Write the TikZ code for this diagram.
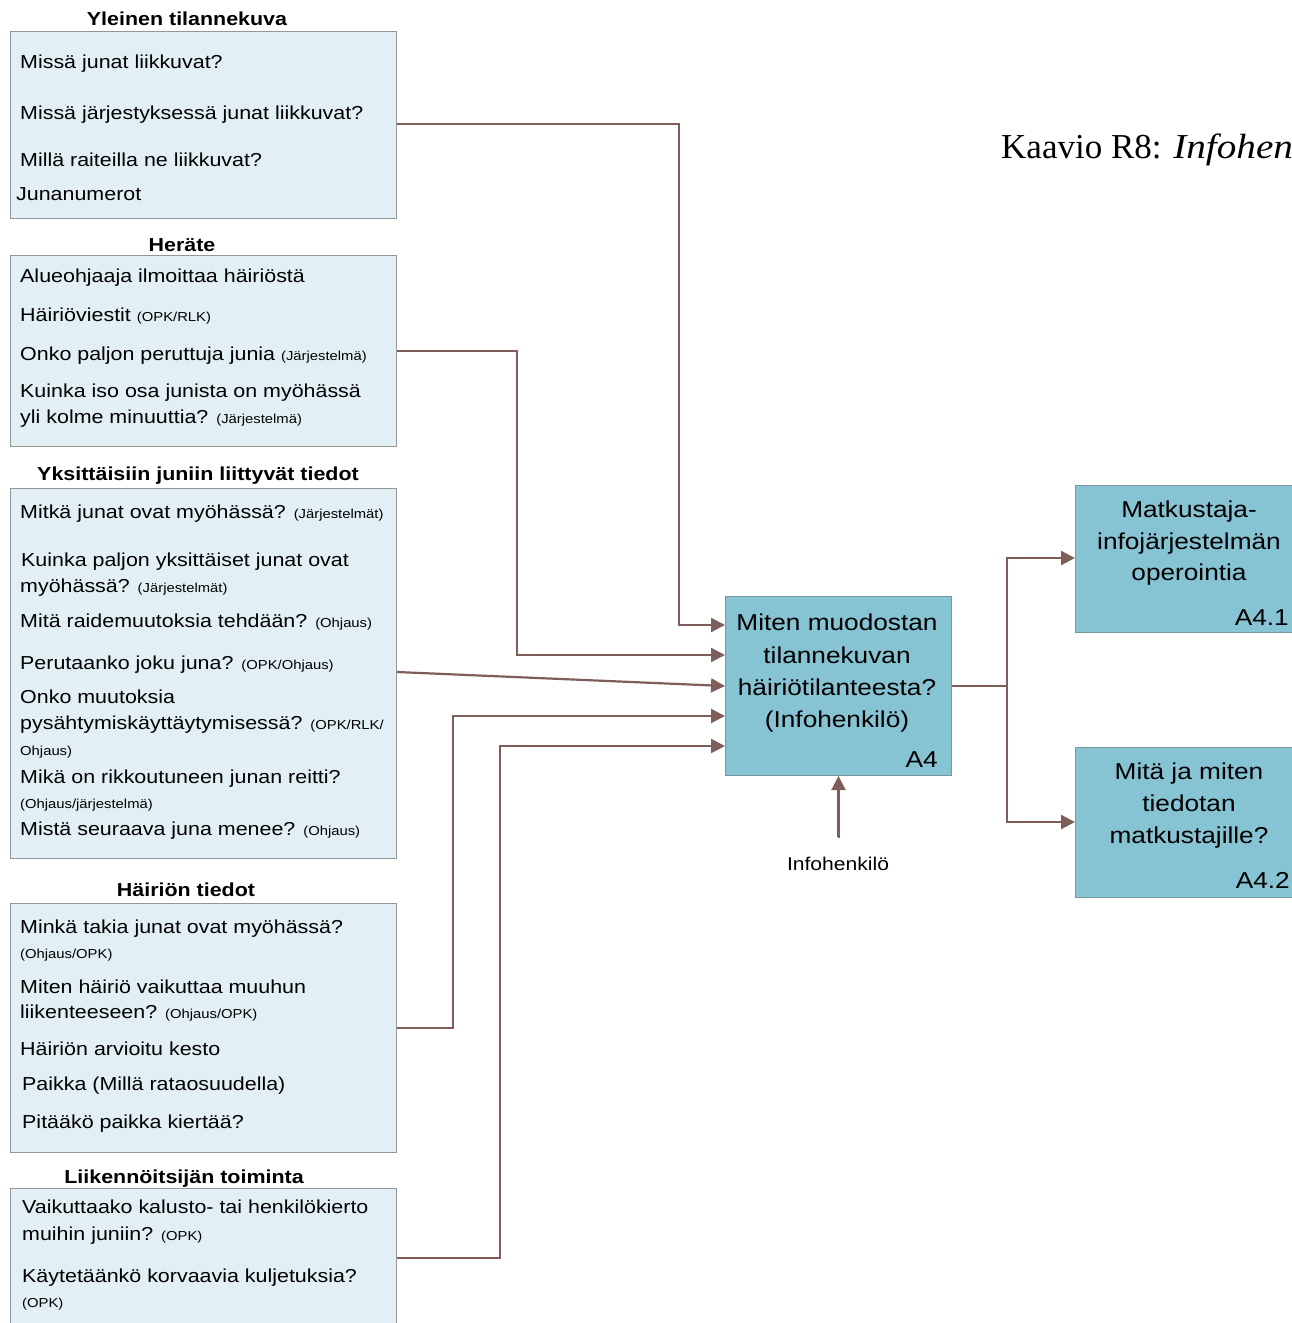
\documentclass[tikz,border=0pt]{standalone}
\usepackage{fontspec}
\usepackage{graphicx}
\setmainfont{Liberation Sans}[FakeStretch=1.14]
\newfontfamily\titleserif{Liberation Serif}
\usetikzlibrary{arrows.meta}
\definecolor{lightfill}{RGB}{226,239,244}
\definecolor{lightborder}{RGB}{150,150,150}
\definecolor{darkfill}{RGB}{134,195,211}
\definecolor{darkborder}{RGB}{120,150,160}
\definecolor{conncol}{RGB}{125,94,90}
\newcommand\txtsize{\fontsize{18.8}{22}\selectfont}
\newcommand\sm{\fontsize{13}{15}\selectfont}
\newcommand\bigsize{\fontsize{23}{27}\selectfont}
\tikzset{
  lightbox/.style={draw=lightborder, line width=1pt, fill=lightfill},
  darkbox/.style={draw=darkborder, line width=1pt, fill=darkfill},
  ln/.style={anchor=base west, inner sep=0pt, font=\txtsize},
  hd/.style={anchor=base, inner sep=0pt, font=\txtsize\bfseries},
  bt/.style={anchor=base, inner sep=0pt, font=\bigsize},
  lbl/.style={anchor=base east, inner sep=0pt, font=\bigsize},
  conn/.style={draw=conncol, line width=2.2pt},
  arr/.style={conn, -{Triangle[length=14pt,width=14pt]}},
}
\begin{document}
\begin{tikzpicture}[x=1pt,y=-1pt]
\clip (0,0) rectangle (1292,1323);
\fill[white] (0,0) rectangle (1292,1323);

% boxes
\node[lightbox, anchor=north west, minimum width=386pt, minimum height=187pt, inner sep=0pt] (b1) at (10,31) {};
\node[lightbox, anchor=north west, minimum width=386pt, minimum height=191pt, inner sep=0pt] (b2) at (10,255) {};
\node[lightbox, anchor=north west, minimum width=386pt, minimum height=370pt, inner sep=0pt] (b3) at (10,488) {};
\node[lightbox, anchor=north west, minimum width=386pt, minimum height=249pt, inner sep=0pt] (b4) at (10,903) {};
\node[lightbox, anchor=north west, minimum width=386pt, minimum height=150pt, inner sep=0pt] (b5) at (10,1188) {};

\node[darkbox, anchor=north west, minimum width=226pt, minimum height=179pt, inner sep=0pt] (a4) at (725,596) {};
\node[darkbox, anchor=north west, minimum width=232pt, minimum height=147pt, inner sep=0pt] (a41) at (1075,485) {};
\node[darkbox, anchor=north west, minimum width=232pt, minimum height=150pt, inner sep=0pt] (a42) at (1075,747) {};

% headings
\node[hd] (h1) at (187,25) {Yleinen tilannekuva};
\node[hd] (h2) at (182,251) {Heräte};
\node[hd] (h3) at (198,480) {Yksittäisiin juniin liittyvät tiedot};
\node[hd] (h4) at (186,896) {Häiriön tiedot};
\node[hd] (h5) at (184,1183) {Liikennöitsijän toiminta};

% box 1
\node[ln] (t11) at (20,68) {Missä junat liikkuvat?};
\node[ln] (t12) at (20,119) {Missä järjestyksessä junat liikkuvat?};
\node[ln] (t13) at (20,166) {Millä raiteilla ne liikkuvat?};
\node[ln] (t14) at (16,200) {Junanumerot};

% box 2
\node[ln] (t21) at (20,282) {Alueohjaaja ilmoittaa häiriöstä};
\node[ln] (t22) at (20,321) {Häiriöviestit {\sm (OPK/RLK)}};
\node[ln] (t23) at (20,360) {Onko paljon peruttuja junia {\sm (Järjestelmä)}};
\node[ln] (t24) at (20,397) {Kuinka iso osa junista on myöhässä};
\node[ln] (t25) at (20,423) {yli kolme minuuttia? {\sm (Järjestelmä)}};

% box 3
\node[ln] (t31) at (20,518) {Mitkä junat ovat myöhässä? {\sm (Järjestelmät)}};
\node[ln] (t32) at (21,566) {Kuinka paljon yksittäiset junat ovat};
\node[ln] (t33) at (20,592) {myöhässä? {\sm (Järjestelmät)}};
\node[ln] (t34) at (20,627) {Mitä raidemuutoksia tehdään? {\sm (Ohjaus)}};
\node[ln] (t35) at (20,669) {Perutaanko joku juna? {\sm (OPK/Ohjaus)}};
\node[ln] (t36) at (20,703) {Onko muutoksia};
\node[ln] (t37) at (20,729) {pysähtymiskäyttäytymisessä? {\sm (OPK/RLK/}};
\node[ln] (t38) at (20,755) {\sm Ohjaus)};
\node[ln] (t39) at (20,783) {Mikä on rikkoutuneen junan reitti?};
\node[ln] (t310) at (20,808) {\sm (Ohjaus/järjestelmä)};
\node[ln] (t311) at (20,835) {Mistä seuraava juna menee? {\sm (Ohjaus)}};

% box 4
\node[ln] (t41) at (20,933) {Minkä takia junat ovat myöhässä?};
\node[ln] (t42) at (20,958) {\sm (Ohjaus/OPK)};
\node[ln] (t43) at (20,993) {Miten häiriö vaikuttaa muuhun};
\node[ln] (t44) at (20,1018) {liikenteeseen? {\sm (Ohjaus/OPK)}};
\node[ln] (t45) at (20,1055) {Häiriön arvioitu kesto};
\node[ln] (t46) at (22,1090) {Paikka (Millä rataosuudella)};
\node[ln] (t47) at (22,1128) {Pitääkö paikka kiertää?};

% box 5
\node[ln] (t51) at (22,1213) {Vaikuttaako kalusto- tai henkilökierto};
\node[ln] (t52) at (22,1240) {muihin juniin? {\sm (OPK)}};
\node[ln] (t53) at (22,1282) {Käytetäänkö korvaavia kuljetuksia?};
\node[ln] (t54) at (22,1307) {\sm (OPK)};

% A4 texts
\node[bt] (m1) at (837,630) {Miten muodostan};
\node[bt] (m2) at (837,663) {tilannekuvan};
\node[bt] (m3) at (837,695) {häiriötilanteesta?};
\node[bt] (m4) at (837,727) {(Infohenkilö)};
\node[lbl] (la4) at (938,767) {A4};

\node[bt] (p1) at (1189,517) {Matkustaja-};
\node[bt] (p2) at (1189,549) {infojärjestelmän};
\node[bt] (p3) at (1189,580) {operointia};
\node[lbl] (la41) at (1289,625) {A4.1};

\node[bt] (q1) at (1189,779) {Mitä ja miten};
\node[bt] (q2) at (1189,811) {tiedotan};
\node[bt] (q3) at (1189,843) {matkustajille?};
\node[lbl] (la42) at (1290,888) {A4.2};

\node[anchor=base, inner sep=0pt, font=\fontsize{18.5}{22}\selectfont] (ih) at (838,870) {Infohenkilö};

\node[anchor=base west, inner sep=0pt, font=\titleserif\fontsize{35}{40}\selectfont] (title) at (1001,158) {Kaavio R8: \scalebox{1.12}[1]{\textit{Infohen}}};

% coordinates
\coordinate (c1a) at (679,124);
\coordinate (c1b) at (725,625);
\coordinate (c2a) at (517,351);
\coordinate (c2b) at (725,655);
\coordinate (c3a) at (396,672);
\coordinate (c3b) at (725,686);
\coordinate (c4a) at (453,1028);
\coordinate (c4b) at (725,716);
\coordinate (c5a) at (500,1258);
\coordinate (c5b) at (725,746);
\coordinate (ihs) at (838,837);
\coordinate (split) at (1007,686);
\coordinate (o1) at (1075,558);
\coordinate (o2) at (1075,822);

% connectors
\draw[arr] (b1.east |- c1a) -- (c1a) |- (a4.west |- c1b);
\draw[arr] (b2.east |- c2a) -- (c2a) |- (a4.west |- c2b);
\draw[arr] (b3.east |- c3a) -- (a4.west |- c3b);
\draw[arr] (b4.east |- c4a) -- (c4a) |- (a4.west |- c4b);
\draw[arr] (b5.east |- c5a) -- (c5a) |- (a4.west |- c5b);
\draw[arr] (ihs) -- (a4.south |- ihs) -- (a4.south);
\draw[conn] (a4.east |- split) -- (split);
\draw[arr] (split) |- (a41.west |- o1);
\draw[arr] (split) |- (a42.west |- o2);
\end{tikzpicture}
\end{document}
